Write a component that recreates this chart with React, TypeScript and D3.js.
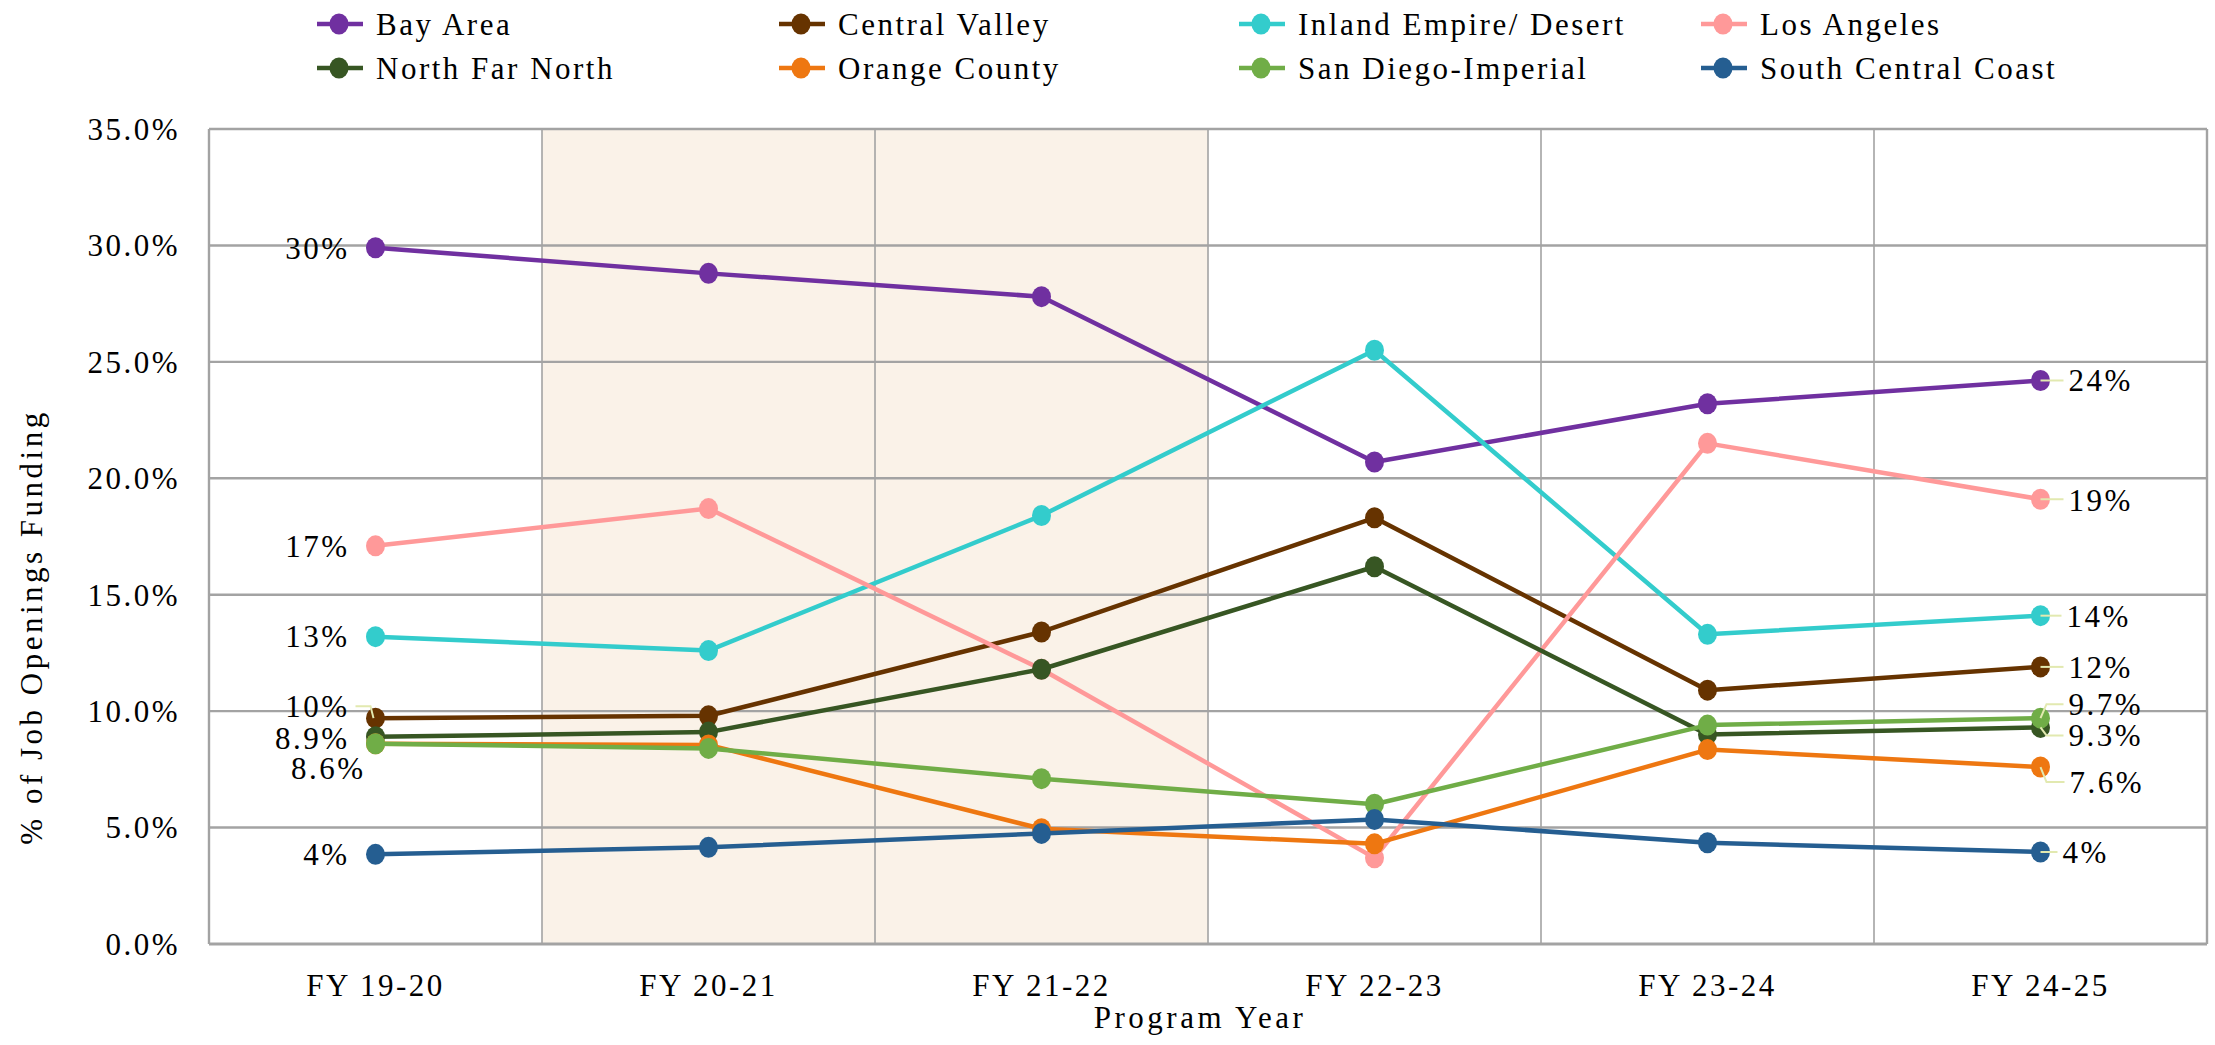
import React from 'react';
import * as d3 from 'd3';

const years = ['FY 19-20', 'FY 20-21', 'FY 21-22', 'FY 22-23', 'FY 23-24', 'FY 24-25'];
const shadedYears = ['FY 20-21', 'FY 21-22'];

const seriesNames = [
  'Bay Area',
  'Central Valley',
  'Inland Empire/ Desert',
  'Los Angeles',
  'North Far North',
  'Orange County',
  'San Diego-Imperial',
  'South Central Coast',
];
const seriesColors = ['#7030A0', '#663300', '#33CCCC', '#FF9999', '#375623', '#EE7711', '#70AD47', '#255E91'];

const bayArea = [29.9, 28.8, 27.8, 20.7, 23.2, 24.2];
const centralValley = [9.7, 9.8, 13.4, 18.3, 10.9, 11.9];
const inlandEmpire = [13.2, 12.6, 18.4, 25.5, 13.3, 14.1];
const losAngeles = [17.1, 18.7, 11.8, 3.7, 21.5, 19.1];
const northFarNorth = [8.9, 9.1, 11.8, 16.2, 9.0, 9.3];
const orangeCounty = [8.6, 8.55, 4.95, 4.3, 8.35, 7.6];
const sanDiegoImperial = [8.6, 8.4, 7.1, 6.0, 9.4, 9.7];
const southCentralCoast = [3.85, 4.15, 4.75, 5.35, 4.35, 3.95];

const seriesValues = [bayArea, centralValley, inlandEmpire, losAngeles, northFarNorth, orangeCounty, sanDiegoImperial, southCentralCoast];

const firstLabels = ['30%', '10%', '13%', '17%', '8.9%', '', '8.6%', '4%'];
const lastLabels = ['24%', '12%', '14%', '19%', '9.3%', '7.6%', '9.7%', '4%'];

const yTicks = [0, 5, 10, 15, 20, 25, 30, 35];

// label placement (style, not data)
const firstLabelOffset = [
  { dx: -26, dy: 0, leader: false },
  { dx: -26, dy: -12, leader: true },
  { dx: -26, dy: 0, leader: false },
  { dx: -26, dy: 0, leader: false },
  { dx: -26, dy: 1, leader: false },
  { dx: -26, dy: 0, leader: false },
  { dx: -10, dy: 24, leader: false },
  { dx: -26, dy: 0, leader: false },
];
const lastLabelOffset = [
  { dx: 28, dy: 0 },
  { dx: 28, dy: 0 },
  { dx: 26, dy: 0 },
  { dx: 28, dy: 1 },
  { dx: 28, dy: 8 },
  { dx: 29, dy: 15 },
  { dx: 28, dy: -14 },
  { dx: 22, dy: 0 },
];

const W = 2215;
const H = 1045;
const FONT = '"Liberation Serif", "Times New Roman", serif';
const FS = 31;
const LS = 2.5;
const GRID = '#A3A3A3';
const LEADER = '#E2E9B0';

export default function App() {
  const left = 209;
  const right = 2207;
  const top = 129;
  const bottom = 944;

  const x = d3.scaleBand<string>().domain(years).range([left, right]).paddingInner(0).paddingOuter(0);
  const bw = x.bandwidth();
  const cx = (c: string) => (x(c) as number) + bw / 2;
  const y = d3.scaleLinear().domain([0, 35]).range([bottom, top]);

  const line = d3
    .line<number>()
    .x((_, i) => cx(years[i]))
    .y((d) => y(d));

  const legendCols = [339, 801, 1261, 1723];
  const legendRows = [24, 68];

  return (
    <svg width={W} height={H} style={{ position: 'absolute', left: 0, top: 0, background: '#fff' }} fontFamily={FONT}>
      <rect x={0} y={0} width={W} height={H} fill="#fff" />
      {shadedYears.map((c) => (
        <rect key={c} x={x(c)} y={top} width={bw} height={bottom - top} fill="#FAF2E8" />
      ))}
      {years.map((c, i) =>
        i === 0 ? null : (
          <line key={c} x1={x(c)} x2={x(c)} y1={top} y2={bottom} stroke={GRID} strokeWidth={1.6} />
        )
      )}
      {yTicks.map((t) => (
        <line key={t} x1={left} x2={right} y1={y(t)} y2={y(t)} stroke={GRID} strokeWidth={t === 0 ? 3 : 2.4} />
      ))}
      <line x1={left} x2={left} y1={top} y2={bottom} stroke={GRID} strokeWidth={2.4} />
      <line x1={right} x2={right} y1={top} y2={bottom} stroke={GRID} strokeWidth={2.4} />

      {yTicks.map((t) => (
        <text key={t} x={180} y={y(t)} dy="0.35em" textAnchor="end" fontSize={FS} letterSpacing={LS} fill="#000">
          {t.toFixed(1) + '%'}
        </text>
      ))}
      {years.map((c) => (
        <text key={c} x={cx(c)} y={996} textAnchor="middle" fontSize={FS} letterSpacing={LS} fill="#000">
          {c}
        </text>
      ))}
      <text x={(left + right) / 2 - 8} y={1028} textAnchor="middle" fontSize={FS} letterSpacing={3.5} fill="#000">
        Program Year
      </text>
      <text
        transform={`translate(42, ${627}) rotate(-90)`}
        textAnchor="middle"
        fontSize={FS}
        letterSpacing={3.5}
        fill="#000"
      >
        % of Job Openings Funding
      </text>

      {seriesValues.map((vals, s) => (
        <g key={s}>
          <path d={line(vals) as string} fill="none" stroke={seriesColors[s]} strokeWidth={4.5} strokeLinejoin="round" />
          {vals.map((v, i) => (
            <ellipse key={i} cx={cx(years[i])} cy={y(v)} rx={9.5} ry={10.5} fill={seriesColors[s]} />
          ))}
        </g>
      ))}

      {seriesValues.map((vals, s) => {
        const mx = cx(years[years.length - 1]);
        const my = y(vals[vals.length - 1]);
        const o = lastLabelOffset[s];
        const ly = my + o.dy;
        const pts = Math.abs(o.dy) < 3
          ? [[mx, my], [mx + o.dx - 5, my]]
          : [[mx, my], [mx + 6, ly], [mx + o.dx - 5, ly]];
        return (
          <polyline key={'ll' + s} points={pts.map((p) => p.join(',')).join(' ')} fill="none" stroke={LEADER} strokeWidth={2} />
        );
      })}
      {seriesValues.map((vals, s) => {
        const o = firstLabelOffset[s];
        if (!o.leader) return null;
        const mx = cx(years[0]);
        const my = y(vals[0]);
        const ly = my + o.dy;
        const pts = [[mx - 2, my], [mx - 5, ly], [mx + o.dx + 6, ly]];
        return (
          <polyline key={'fl' + s} points={pts.map((p) => p.join(',')).join(' ')} fill="none" stroke={LEADER} strokeWidth={2} />
        );
      })}

      {seriesValues.map((vals, s) => {
        const o = firstLabelOffset[s];
        if (!firstLabels[s]) return null;
        return (
          <text
            key={'f' + s}
            x={cx(years[0]) + o.dx}
            y={y(vals[0]) + o.dy}
            dy="0.35em"
            textAnchor="end"
            fontSize={FS}
            letterSpacing={LS}
            fill="#000"
          >
            {firstLabels[s]}
          </text>
        );
      })}
      {seriesValues.map((vals, s) => {
        const o = lastLabelOffset[s];
        return (
          <text
            key={'l' + s}
            x={cx(years[years.length - 1]) + o.dx}
            y={y(vals[vals.length - 1]) + o.dy}
            dy="0.35em"
            textAnchor="start"
            fontSize={FS}
            letterSpacing={LS}
            fill="#000"
          >
            {lastLabels[s]}
          </text>
        );
      })}

      {seriesNames.map((name, s) => {
        const col = s % 4;
        const row = Math.floor(s / 4);
        const mx = legendCols[col];
        const my = legendRows[row];
        return (
          <g key={'lg' + s}>
            <line x1={mx - 22} x2={mx + 24} y1={my} y2={my} stroke={seriesColors[s]} strokeWidth={4.5} />
            <ellipse cx={mx} cy={my} rx={9.5} ry={10.5} fill={seriesColors[s]} />
            <text x={mx + 37} y={my} dy="0.35em" fontSize={FS} letterSpacing={LS} fill="#000">
              {name}
            </text>
          </g>
        );
      })}
    </svg>
  );
}
